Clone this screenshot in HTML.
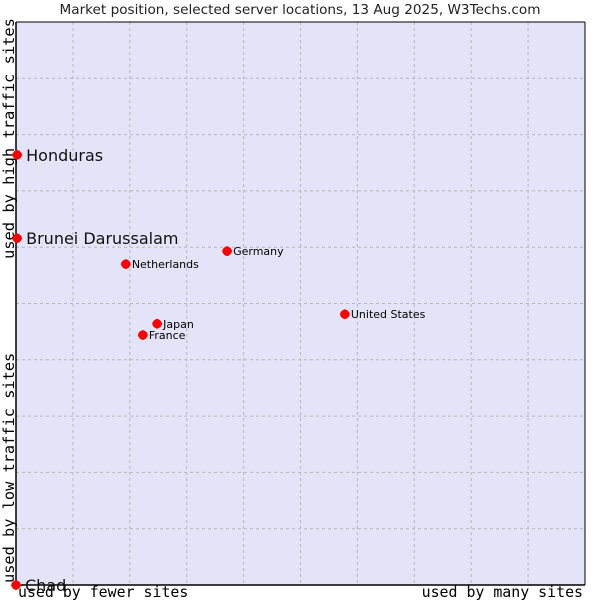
<!DOCTYPE html>
<html><head><meta charset="utf-8"><style>
body{margin:0;background:#fff;width:600px;height:600px;overflow:hidden}
svg{display:block}
</style></head><body>
<svg id="chart" width="600" height="600">
<text x="300" y="14" text-anchor="middle" font-family="DejaVu Sans, sans-serif" font-size="13.6" fill="#222">Market position, selected server locations, 13 Aug 2025, W3Techs.com</text>
<rect x="16" y="22" width="569" height="563" fill="#e3e4f8"/>
<g id="grid"></g>
<line x1="16" y1="22" x2="585" y2="22" stroke="#000"/>
<line x1="585" y1="22" x2="585" y2="585" stroke="#000"/>
<line x1="16" y1="22" x2="16" y2="585" stroke="#000" stroke-width="1.5"/>
<line x1="16" y1="585" x2="585" y2="585" stroke="#000" stroke-width="1.5"/>
<text transform="translate(14,259) rotate(-90)" font-family="DejaVu Sans Mono, monospace" font-size="15.4" fill="#000">used by high traffic sites</text>
<text transform="translate(14,583) rotate(-90)" font-family="DejaVu Sans Mono, monospace" font-size="15.3" fill="#000">used by low traffic sites</text>
<text x="18" y="597" font-family="DejaVu Sans Mono, monospace" font-size="14.9" fill="#000">used by fewer sites</text>
<text x="583" y="597" text-anchor="end" font-family="DejaVu Sans Mono, monospace" font-size="14.9" fill="#000">used by many sites</text>
<g id="points"></g>
</svg>
<script>
const names = ["Honduras","Brunei Darussalam","Germany","Netherlands","United States","Japan","France","Chad"];
const xVals = [0.2,0.2,37.1,19.3,57.8,24.8,22.3,0];
const yVals = [76.4,61.6,59.3,57.0,48.1,46.4,44.4,0];
const bigLabel = [true,true,false,false,false,false,false,true];
const gridTicks = [10,20,30,40,50,60,70,80,90];
const X0=16,X1=585,Y0=585,Y1=22;
function sx(v){return X0+(X1-X0)*v/100;}
function sy(v){return Y0-(Y0-Y1)*v/100;}
const NS="http://www.w3.org/2000/svg";
const grid=document.getElementById('grid');
gridTicks.forEach(t=>{
  const a=document.createElementNS(NS,'line');
  a.setAttribute('x1',sx(t));a.setAttribute('x2',sx(t));a.setAttribute('y1',Y1);a.setAttribute('y2',Y0);
  a.setAttribute('stroke','#b8b8b8');a.setAttribute('stroke-dasharray','3,3');
  
  
  grid.appendChild(a);
  const b=document.createElementNS(NS,'line');
  b.setAttribute('y1',sy(t));b.setAttribute('y2',sy(t));b.setAttribute('x1',X0);b.setAttribute('x2',X1);
  b.setAttribute('stroke','#b8b8b8');b.setAttribute('stroke-dasharray','3,3');
  
  
  grid.appendChild(b);
});
const pts=document.getElementById('points');
names.forEach((n,i)=>{
  const cx=sx(xVals[i]),cy=sy(yVals[i]);
  const p=document.createElementNS(NS,'path');
  p.setAttribute('d',`M${cx-5} ${cy}Q${cx-4} ${cy-4} ${cx} ${cy-5}Q${cx+4} ${cy-4} ${cx+5} ${cy}Q${cx+4} ${cy+4} ${cx} ${cy+5}Q${cx-4} ${cy+4} ${cx-5} ${cy}Z`);
  p.setAttribute('fill','#f00');
  
  
  pts.appendChild(p);
  const t=document.createElementNS(NS,'text');
  const big=bigLabel[i];
  t.setAttribute('x',cx+(big?9:6));
  t.setAttribute('y',cy+(big?6:4));
  t.setAttribute('font-family','DejaVu Sans, sans-serif');
  t.setAttribute('font-size',big?16:11);
  t.setAttribute('fill',big?'#111':'#000');
  t.textContent=n;
  
  
  pts.appendChild(t);
});
</script>
</body></html>
